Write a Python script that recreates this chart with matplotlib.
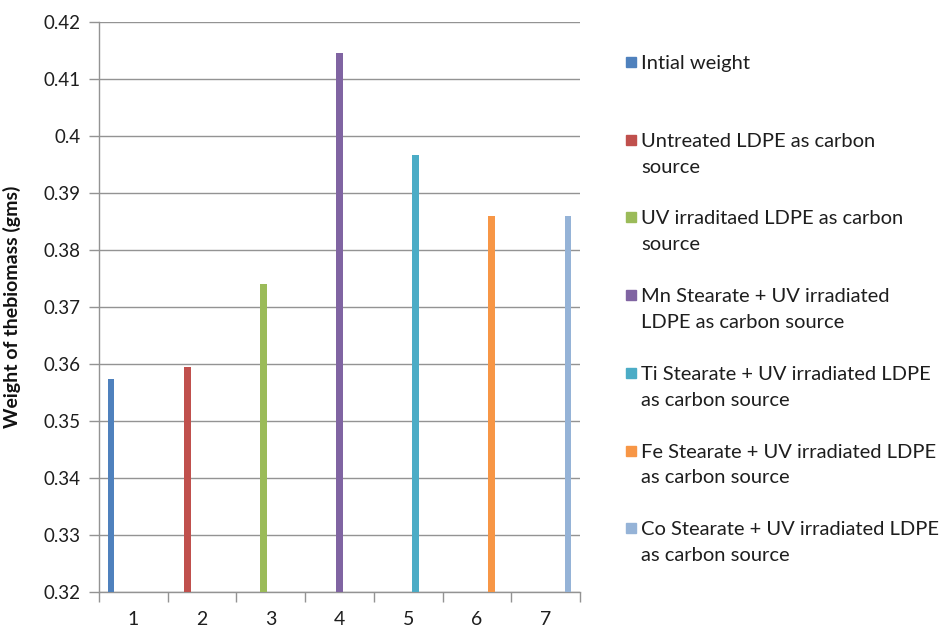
import matplotlib.pyplot as plt
import matplotlib.ticker as mticker
from matplotlib.patches import Rectangle
import numpy as np

plt.rcParams['font.family'] = ['Lato', 'DejaVu Sans']

# biomass weight per treatment (gms)
series_names = [
    'Intial weight',
    'Untreated LDPE as carbon\nsource',
    'UV irraditaed LDPE as carbon\nsource',
    'Mn Stearate + UV irradiated\nLDPE as carbon source',
    'Ti Stearate + UV irradiated LDPE\nas carbon source',
    'Fe Stearate + UV irradiated LDPE\nas carbon source',
    'Co Stearate + UV irradiated LDPE\nas carbon source',
]
weights = [0.3574, 0.3595, 0.3741, 0.4146, 0.3967, 0.386, 0.386]
categories = ['1', '2', '3', '4', '5', '6', '7']
colors = ['#4F81BD', '#C0504D', '#9BBB59', '#8064A2', '#4BACC6', '#F79646', '#95B3D7']

grid_col = '#939393'
txt_col = '#1E1E1E'

fig = plt.figure(figsize=(9.39, 6.27), dpi=100)
ax = fig.add_axes([99 / 939, 1 - 592 / 627, 481 / 939, (592 - 22) / 627])

n = len(series_names)
step = 0.108
w = 0.098
x = np.arange(1, n + 1)
for i in range(n):
    # each series only has a value in its own category
    ax.bar(x[i] + (i - (n - 1) / 2) * step, weights[i], width=w,
           color=colors[i], zorder=3)

ax.set_ylim(0.32, 0.42)
ax.set_xlim(0.5, n + 0.5)
ax.yaxis.set_major_locator(mticker.MultipleLocator(0.01))
ax.yaxis.set_major_formatter(mticker.FuncFormatter(lambda v, p: '%g' % round(v, 2)))
ax.grid(axis='y', color=grid_col, linewidth=1.0, zorder=0)

# category boundaries get tick marks, labels sit in the middle
ax.set_xticks(np.arange(0.5, n + 1, 1.0))
ax.set_xticklabels([])
ax.set_xticks(x, minor=True)
ax.set_xticklabels(categories, minor=True)
ax.tick_params(axis='x', which='major', length=7, color=grid_col, width=1)
ax.tick_params(axis='x', which='minor', length=0, pad=14, labelsize=14, labelcolor=txt_col)
ax.tick_params(axis='y', length=7, color=grid_col, width=1, pad=6, labelsize=13.5,
               labelcolor=txt_col)

for s in ['top', 'right']:
    ax.spines[s].set_visible(False)
for s in ['left', 'bottom']:
    ax.spines[s].set_color(grid_col)
    ax.spines[s].set_linewidth(1.0)

ax.set_ylabel('Weight of thebiomass (gms)', fontsize=14, fontweight='bold',
              color='#111111')
ax.yaxis.set_label_coords(-0.163, 0.5)

# legend on the right
y0 = 62
gap = 77.7
for i in range(n):
    yp = y0 + i * gap
    fig.patches.append(Rectangle((626 / 939, 1 - (yp + 5) / 627), 10 / 939, 10 / 627,
                                 transform=fig.transFigure, color=colors[i]))
    fig.text(641 / 939, 1 - (yp - 7) / 627, series_names[i], fontsize=14.5,
             color=txt_col, va='top', ha='left', linespacing=1.64)

fig.savefig('out.png', dpi=100)
